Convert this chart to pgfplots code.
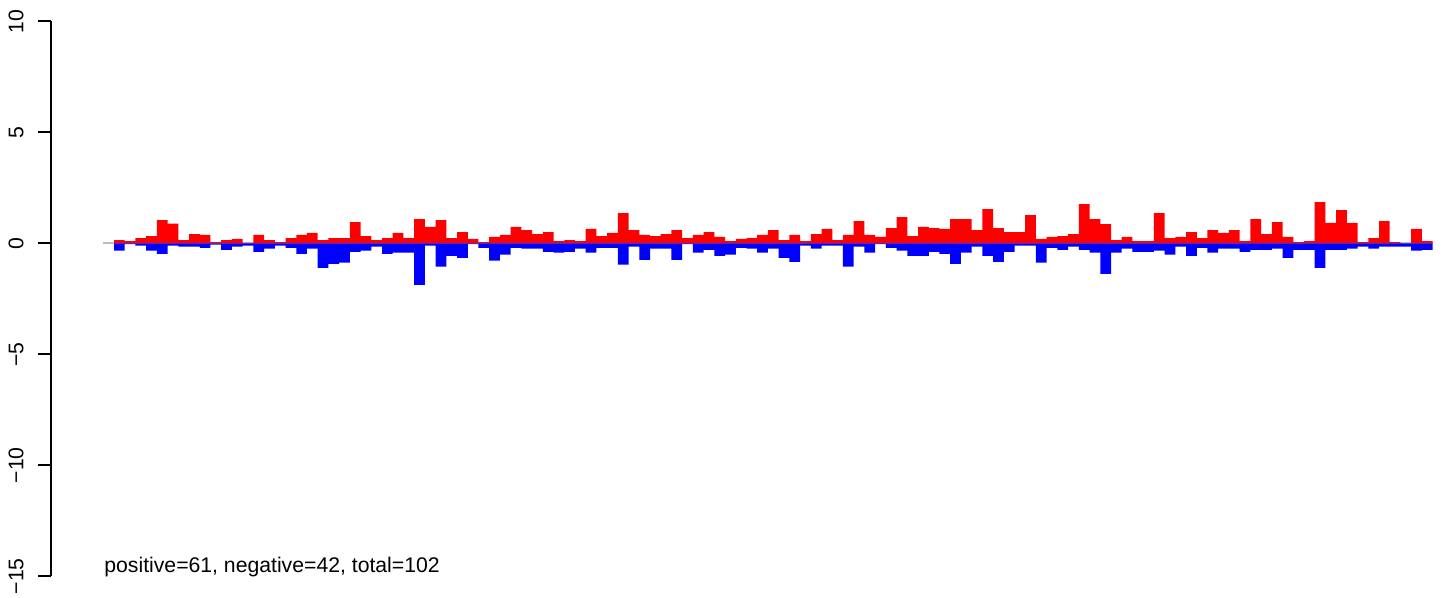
\documentclass[border=0pt]{standalone}
\usepackage{fontspec}
\setmainfont{Liberation Sans}
\usepackage{pgfplots}
\pgfplotsset{compat=1.18}
\usetikzlibrary{calc}
\definecolor{rgray}{RGB}{190,190,190}

\pgfplotstableread{
i pos
1 0.15
2 0.10
3 0.24
4 0.33
5 1.05
6 0.89
7 0.15
8 0.42
9 0.38
10 0.06
11 0.15
12 0.20
13 0.02
14 0.38
15 0.15
16 0.06
17 0.24
18 0.38
19 0.47
20 0.15
21 0.24
22 0.24
23 0.96
24 0.33
25 0.15
26 0.24
27 0.47
28 0.24
29 1.10
30 0.74
31 1.05
32 0.24
33 0.51
34 0.20
35 0.06
36 0.29
37 0.38
38 0.74
39 0.60
40 0.42
41 0.51
42 0.10
43 0.15
44 0.10
45 0.65
46 0.33
47 0.47
48 1.36
49 0.60
50 0.38
51 0.33
52 0.42
53 0.60
54 0.24
55 0.38
56 0.51
57 0.29
58 0.10
59 0.20
60 0.24
61 0.38
62 0.60
63 0.15
64 0.38
65 0.10
66 0.42
67 0.65
68 0.15
69 0.38
70 1.00
71 0.38
72 0.29
73 0.69
74 1.19
75 0.33
76 0.74
77 0.69
78 0.65
79 1.10
80 1.10
81 0.60
82 1.54
83 0.69
84 0.51
85 0.51
86 1.28
87 0.20
88 0.29
89 0.33
90 0.42
91 1.77
92 1.10
93 0.87
94 0.15
95 0.29
96 0.10
97 0.10
98 1.36
99 0.24
100 0.29
101 0.51
102 0.24
103 0.60
104 0.47
105 0.60
106 0.10
107 1.10
108 0.42
109 0.96
110 0.29
111 0.06
112 0.10
113 1.86
114 0.92
115 1.50
116 0.92
117 0.06
118 0.24
119 1.00
120 0.06
121 0.00
122 0.65
123 0.10
}\postable

\pgfplotstableread{
i neg
1 -0.33
2 -0.03
3 -0.10
4 -0.33
5 -0.47
6 -0.10
7 -0.15
8 -0.15
9 -0.20
10 -0.05
11 -0.29
12 -0.15
13 -0.10
14 -0.38
15 -0.24
16 -0.10
17 -0.20
18 -0.47
19 -0.24
20 -1.10
21 -0.92
22 -0.87
23 -0.38
24 -0.33
25 -0.15
26 -0.47
27 -0.42
28 -0.42
29 -1.87
30 -0.10
31 -1.05
32 -0.56
33 -0.65
34 -0.03
35 -0.20
36 -0.78
37 -0.51
38 -0.20
39 -0.24
40 -0.24
41 -0.38
42 -0.42
43 -0.38
44 -0.24
45 -0.42
46 -0.20
47 -0.20
48 -0.96
49 -0.15
50 -0.74
51 -0.24
52 -0.24
53 -0.74
54 -0.03
55 -0.42
56 -0.29
57 -0.56
58 -0.51
59 -0.20
60 -0.24
61 -0.42
62 -0.24
63 -0.65
64 -0.83
65 -0.10
66 -0.24
67 -0.10
68 -0.10
69 -1.05
70 -0.15
71 -0.42
72 -0.03
73 -0.20
74 -0.33
75 -0.56
76 -0.56
77 -0.38
78 -0.47
79 -0.92
80 -0.42
81 -0.15
82 -0.56
83 -0.83
84 -0.38
85 -0.10
86 -0.10
87 -0.87
88 -0.20
89 -0.29
90 -0.15
91 -0.29
92 -0.42
93 -1.37
94 -0.42
95 -0.24
96 -0.38
97 -0.38
98 -0.33
99 -0.51
100 -0.15
101 -0.56
102 -0.20
103 -0.42
104 -0.24
105 -0.24
106 -0.38
107 -0.29
108 -0.29
109 -0.24
110 -0.65
111 -0.29
112 -0.29
113 -1.10
114 -0.29
115 -0.29
116 -0.24
117 -0.15
118 -0.24
119 -0.15
120 -0.15
121 -0.15
122 -0.33
123 -0.29
}\negtable

\begin{document}
\fontsize{10.6}{12.7}\selectfont
\begin{tikzpicture}
  \begin{axis}[
      scale only axis, width=699pt, height=277.4pt,
      xmin=-5.377, xmax=125.03,
      ymin=-15, ymax=10,
      axis x line=none, axis y line*=left,
      axis line style={line width=1pt, black},
      ytick={-15,-10,-5,0,5,10},
      yticklabels={−15,−10,−5,0,5,10},
      tick align=outside, major tick length=6.5pt,
      every tick/.style={black, line width=1pt},
      yticklabel shift=7.25pt,
      yticklabel style={rotate=90, anchor=base, font=\fontsize{10.6}{12.7}\selectfont},
      clip=false,
    ]
    % zero line under the bars
    \addplot[rgray, line width=1pt, forget plot] coordinates {(-0.53,0) (123.55,0)};
    \addplot[ybar, bar width=1, bar shift=0pt, fill=red, draw=none] table[x=i, y=pos] {\postable};
    \addplot[ybar, bar width=1, bar shift=0pt, fill=blue, draw=none] table[x=i, y=neg] {\negtable};
    \node[anchor=base west, inner sep=0pt] at (axis cs:-0.433,-14.84)
      {positive=61, negative=42, total=102};
  \end{axis}
  \pgfresetboundingbox
  \path[use as bounding box]
    ($(current axis.south west)+(-25.5pt,-10.85pt)$) rectangle
    ($(current axis.north east)+(0pt,10.75pt)$);
\end{tikzpicture}
\end{document}
